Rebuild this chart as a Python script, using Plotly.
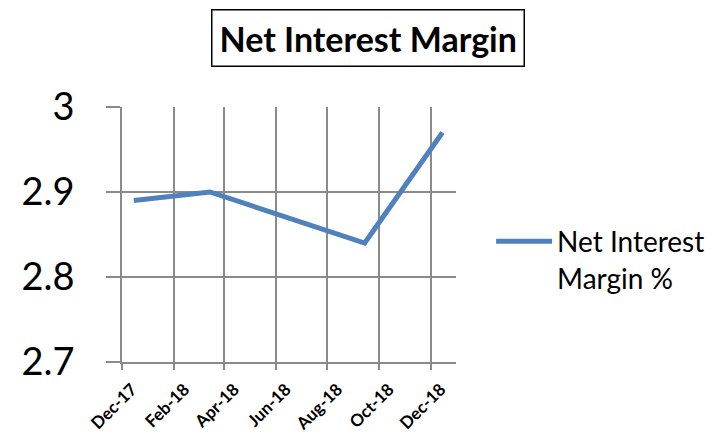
import plotly.graph_objects as go

# quarter-end readings of the margin (%)
dates = ["2017-12-31", "2018-03-31", "2018-09-30", "2018-12-31"]
margin = [2.89, 2.90, 2.84, 2.97]

# axis ticks as they appear on the chart
tick_dates = ["2017-12-17", "2018-02-17", "2018-04-17", "2018-06-17",
              "2018-08-17", "2018-10-17", "2018-12-17"]
tick_labels = ["Dec-17", "Feb-18", "Apr-18", "Jun-18", "Aug-18", "Oct-18", "Dec-18"]
y_ticks = [2.7, 2.8, 2.9, 3.0]
y_labels = ["2.7", "2.8", "2.9", "3"]

blue = "#4F81BD"
grid = "#8a8a8a"
font = "Lato, 'Open Sans', sans-serif"

fig = go.Figure()
fig.add_trace(go.Scatter(
    x=dates, y=margin, mode="lines",
    name="Net Interest<br>Margin %",
    line=dict(color=blue, width=5),
))

fig.update_layout(
    width=716, height=432,
    margin=dict(l=122, r=260, t=107, b=70, autoexpand=False),
    paper_bgcolor="white", plot_bgcolor="white",
    font=dict(family=font, color="black"),
    showlegend=True,
    legend=dict(x=1.105, y=0.57, xanchor="left", yanchor="top",
                valign="top", font=dict(size=28), itemwidth=56),
)

fig.update_xaxes(
    type="date", range=["2017-12-17", "2019-01-16"],
    tickvals=tick_dates, ticktext=tick_labels, tickangle=-45,
    tickfont=dict(size=17, family=font, weight="bold"),
    showgrid=True, gridcolor=grid, gridwidth=1.5,
    showline=True, linecolor=grid, linewidth=1.5,
    ticks="outside", ticklen=6, tickcolor=grid, tickwidth=1.5,
    ticklabelshift=10, ticklabelstandoff=3, automargin=False,
)
fig.update_yaxes(
    range=[2.7, 3.0], tickvals=y_ticks, ticktext=y_labels,
    tickfont=dict(size=38, family=font),
    showgrid=True, gridcolor=grid, gridwidth=1.5,
    showline=True, linecolor=grid, linewidth=1.5,
    ticks="outside", ticklen=14, tickcolor=grid, tickwidth=1.5,
    ticklabelstandoff=24, zeroline=False, automargin=False,
)

fig.add_annotation(
    text="<b>Net Interest Margin</b>", xref="paper", yref="paper",
    x=0.737, y=1.27, xanchor="center", yanchor="middle", showarrow=False,
    font=dict(size=34, family=font),
    bordercolor="black", borderwidth=1.5, borderpad=7,
)

# drop the browser's default 8px body margin so the figure sits at 0,0
fig.write_html("out.html", config={"displayModeBar": False},
               post_script="document.body.style.margin='0';")
